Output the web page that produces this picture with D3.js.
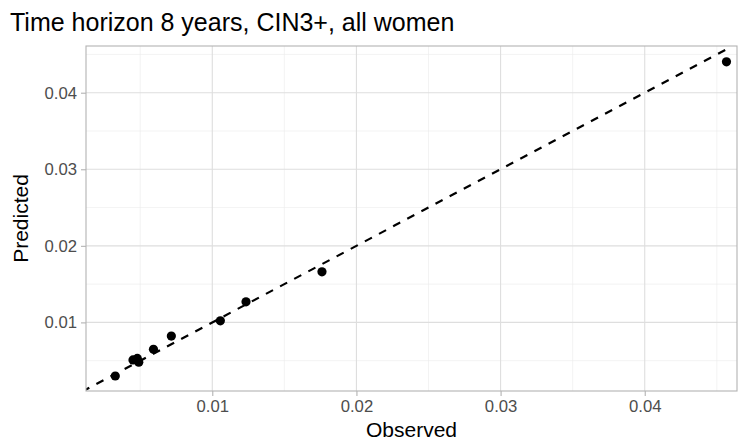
<!DOCTYPE html>
<html>
<head>
<meta charset="utf-8">
<title>Calibration plot</title>
<script src="https://cdn.jsdelivr.net/npm/d3@7"></script>
<style>
  body { margin: 0; background: #fff; }
  text { font-family: "Liberation Sans", Arial, sans-serif; }
</style>
</head>
<body>
<div id="chart"></div>
<script>
// observed vs predicted risk per group
var observed  = [0.00327, 0.00450, 0.00480, 0.00490, 0.00592, 0.00716, 0.01056, 0.01234, 0.01761, 0.04567];
var predicted = [0.00300, 0.00510, 0.00530, 0.00480, 0.00648, 0.00821, 0.01021, 0.01269, 0.01660, 0.04403];
var majorTicks = [0.01, 0.02, 0.03, 0.04];
var minorTicks = [0.005, 0.015, 0.025, 0.035, 0.045];
var refLine = [0, 0.04567];

var W = 748, H = 448;
var m = { left: 86, right: 11, top: 46, bottom: 57 };

var svg = d3.select("#chart").append("svg")
    .attr("width", W)
    .attr("height", H);

var x = d3.scaleLinear().domain([0.00124, 0.0464]).range([m.left, W - m.right]);
var y = d3.scaleLinear().domain([0.00104, 0.0461]).range([H - m.bottom, m.top]);

svg.append("defs").append("clipPath").attr("id", "clip")
  .append("rect")
    .attr("x", m.left).attr("y", m.top)
    .attr("width", W - m.left - m.right)
    .attr("height", H - m.top - m.bottom);

// grid
var grid = svg.append("g");
minorTicks.forEach(function(t) {
    grid.append("line").attr("x1", x(t)).attr("x2", x(t)).attr("y1", m.top).attr("y2", H - m.bottom)
        .attr("stroke", "#ebebeb").attr("stroke-width", 0.6);
    grid.append("line").attr("y1", y(t)).attr("y2", y(t)).attr("x1", m.left).attr("x2", W - m.right)
        .attr("stroke", "#ebebeb").attr("stroke-width", 0.6);
});
majorTicks.forEach(function(t) {
    grid.append("line").attr("x1", x(t)).attr("x2", x(t)).attr("y1", m.top).attr("y2", H - m.bottom)
        .attr("stroke", "#dedede").attr("stroke-width", 1.1);
    grid.append("line").attr("y1", y(t)).attr("y2", y(t)).attr("x1", m.left).attr("x2", W - m.right)
        .attr("stroke", "#dedede").attr("stroke-width", 1.1);
});

// axes
var xAxis = d3.axisBottom(x).tickValues(majorTicks).tickSize(5).tickPadding(4).tickFormat(d3.format(".2f"));
var yAxis = d3.axisLeft(y).tickValues(majorTicks).tickSize(5).tickPadding(4).tickFormat(d3.format(".2f"));

function styleAxis(g) {
    g.select(".domain").remove();
    g.selectAll(".tick line").attr("stroke", "#b3b3b3").attr("stroke-width", 1.1);
    g.selectAll(".tick text").attr("fill", "#4d4d4d").attr("font-size", "16.7px")
        .attr("font-family", "Liberation Sans, Arial, sans-serif");
}

svg.append("g").attr("transform", "translate(0," + (H - m.bottom) + ")").call(xAxis).call(styleAxis);
svg.append("g").attr("transform", "translate(" + m.left + ",0)").call(yAxis).call(styleAxis);

// reference line y = x
svg.append("line")
    .attr("clip-path", "url(#clip)")
    .attr("x1", x(refLine[0])).attr("y1", y(refLine[0]))
    .attr("x2", x(refLine[1])).attr("y2", y(refLine[1]))
    .attr("stroke", "#000").attr("stroke-width", 2.2)
    .attr("stroke-dasharray", "8,8");

// points
svg.append("g").selectAll("circle")
    .data(observed.map(function(o, i) { return { o: o, p: predicted[i] }; }))
    .enter().append("circle")
    .attr("cx", function(d) { return x(d.o); })
    .attr("cy", function(d) { return y(d.p); })
    .attr("r", 4.6)
    .attr("fill", "#000");

// panel border
svg.append("rect")
    .attr("x", m.left).attr("y", m.top)
    .attr("width", W - m.left - m.right)
    .attr("height", H - m.top - m.bottom)
    .attr("fill", "none").attr("stroke", "#b3b3b3").attr("stroke-width", 1.1);

// titles
svg.append("text")
    .attr("x", 10).attr("y", 31)
    .attr("font-size", "25px").attr("fill", "#000")
    .text("Time horizon 8 years, CIN3+, all women");

svg.append("text")
    .attr("x", (m.left + W - m.right) / 2).attr("y", 437)
    .attr("text-anchor", "middle")
    .attr("font-size", "21px").attr("fill", "#000")
    .text("Observed");

svg.append("text")
    .attr("transform", "translate(28," + ((m.top + H - m.bottom) / 2) + ") rotate(-90)")
    .attr("text-anchor", "middle")
    .attr("font-size", "21px").attr("fill", "#000")
    .text("Predicted");
</script>
</body>
</html>
